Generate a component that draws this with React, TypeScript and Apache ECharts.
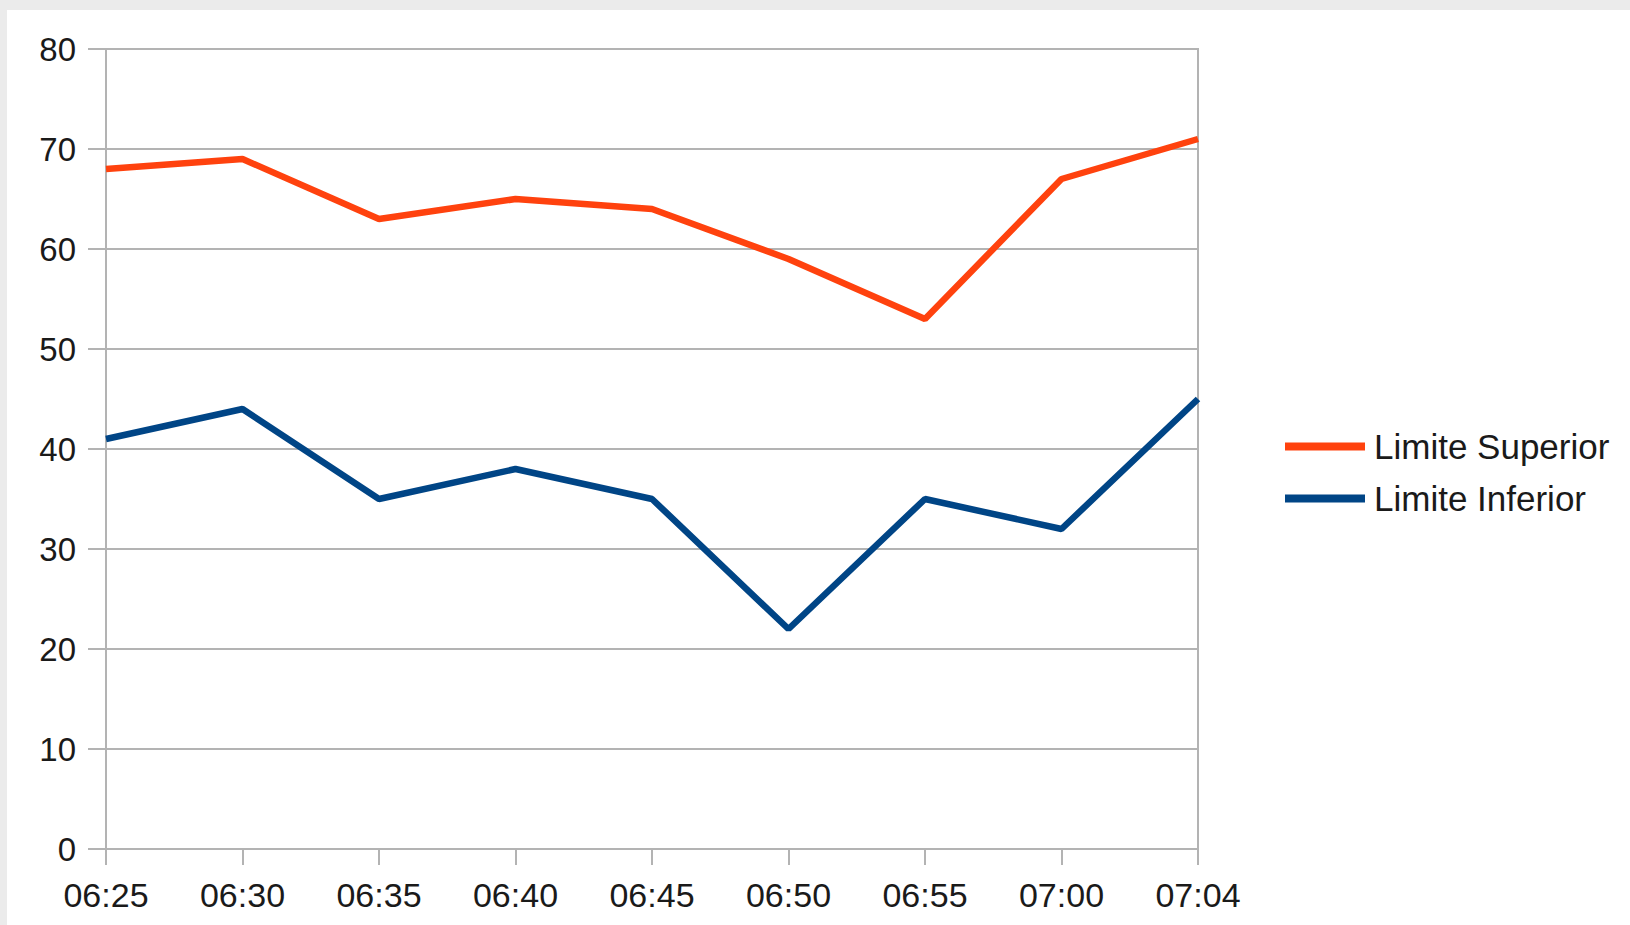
import React, { useEffect, useRef } from "react";
import * as echarts from "echarts";

const categories = ["06:25", "06:30", "06:35", "06:40", "06:45", "06:50", "06:55", "07:00", "07:04"];
const limiteSuperior = [68, 69, 63, 65, 64, 59, 53, 67, 71];
const limiteInferior = [41, 44, 35, 38, 35, 22, 35, 32, 45];
const yTicks = { min: 0, max: 80, interval: 10 };

const FONT = "'Liberation Sans', Arial, sans-serif";
const GRID_COLOR = "#b3b3b3";
const TEXT_COLOR = "#1a1a1a";

export default function App() {
  const ref = useRef<HTMLDivElement>(null);

  useEffect(() => {
    if (!ref.current) return;
    const chart = echarts.init(ref.current, null, { renderer: "svg" });
    chart.setOption({
      animation: false,
      backgroundColor: "#ffffff",
      textStyle: { fontFamily: FONT },
      grid: {
        left: 99,
        top: 39,
        right: 432,
        bottom: 76,
        show: true,
        borderColor: GRID_COLOR,
        borderWidth: 2,
        containLabel: false,
      },
      legend: {
        orient: "vertical",
        left: 1273,
        top: 414,
        icon: "rect",
        itemWidth: 80,
        itemHeight: 8,
        itemGap: 17,
        textStyle: {
          fontFamily: FONT,
          fontSize: 35,
          lineHeight: 35,
          color: TEXT_COLOR,
          padding: [0, 0, 0, 4],
        },
        data: ["Limite Superior", "Limite Inferior"],
      },
      xAxis: {
        type: "category",
        data: categories,
        boundaryGap: false,
        axisLine: { lineStyle: { color: GRID_COLOR, width: 2 } },
        axisTick: { show: true, length: 16, lineStyle: { color: GRID_COLOR, width: 2 } },
        axisLabel: {
          fontFamily: FONT,
          fontSize: 34,
          color: TEXT_COLOR,
          margin: 29,
          interval: 0,
        },
        splitLine: { show: false },
      },
      yAxis: {
        type: "value",
        min: yTicks.min,
        max: yTicks.max,
        interval: yTicks.interval,
        axisLine: { show: true, lineStyle: { color: GRID_COLOR, width: 2 } },
        axisTick: { show: true, length: 18, lineStyle: { color: GRID_COLOR, width: 2 } },
        axisLabel: {
          fontFamily: FONT,
          fontSize: 33,
          color: TEXT_COLOR,
          margin: 30,
        },
        splitLine: { show: true, lineStyle: { color: GRID_COLOR, width: 2 } },
      },
      series: [
        {
          name: "Limite Superior",
          type: "line",
          data: limiteSuperior,
          showSymbol: false,
          symbol: "none",
          color: "#ff420e",
          lineStyle: { color: "#ff420e", width: 6.5 },
        },
        {
          name: "Limite Inferior",
          type: "line",
          data: limiteInferior,
          showSymbol: false,
          symbol: "none",
          color: "#004586",
          lineStyle: { color: "#004586", width: 6.5 },
        },
      ],
    });
    return () => chart.dispose();
  }, []);

  return (
    <div
      style={{
        position: "fixed",
        left: 0,
        top: 0,
        width: 1630,
        height: 925,
        background: "#ebebeb",
        overflow: "hidden",
      }}
    >
      <div
        ref={ref}
        style={{ position: "absolute", left: 7, top: 10, width: 1623, height: 915, background: "#fff" }}
      />
    </div>
  );
}
